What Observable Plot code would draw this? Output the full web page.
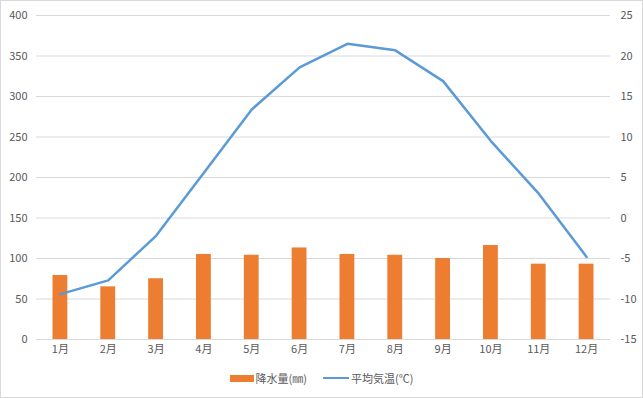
<!DOCTYPE html>
<html>
<head>
<meta charset="utf-8">
<script src="https://cdn.jsdelivr.net/npm/d3@7"></script>
<script src="https://cdn.jsdelivr.net/npm/@observablehq/plot@0.6"></script>
<style>
  html, body { margin: 0; padding: 0; background: #fff; }
  #wrap { position: relative; width: 643px; height: 398px; overflow: hidden; font-family: "Noto Sans CJK JP", "Noto Sans", sans-serif; }
  #border { position: absolute; left: 0; top: 0; width: 643px; height: 398px; box-sizing: border-box; border: 1px solid #d9d9d9; pointer-events: none; }
  #chart svg { display: block; }
  #legend { position: absolute; left: 0; top: 370px; width: 643px; display: flex; justify-content: center; align-items: center; font-size: 11px; color: #595959; gap: 0; }
  .item { display: flex; align-items: center; margin: 0 8px; }
  .sw-bar { width: 24px; height: 7px; background: #ed7d31; margin-right: 2px; }
  .sw-line { width: 26px; height: 0; border-top: 2.5px solid #5b9bd5; margin-right: 2px; }
</style>
</head>
<body>
<div id="wrap">
  <div id="chart"></div>
  <div id="legend"></div>
  <div id="border"></div>
</div>
<script>
const months = ["1月","2月","3月","4月","5月","6月","7月","8月","9月","10月","11月","12月"];
const precipitation = [79, 65, 75, 105, 104, 113, 105, 104, 100, 116, 93, 93];
const temperature = [-9.4, -7.7, -2.2, 5.6, 13.4, 18.6, 21.5, 20.7, 16.9, 9.5, 3.0, -4.8];
const leftTicks = [0, 50, 100, 150, 200, 250, 300, 350, 400];
const rightTicks = [-15, -10, -5, 0, 5, 10, 15, 20, 25];
const seriesNames = ["降水量(㎜)", "平均気温(℃)"];
const colors = ["#ed7d31", "#5b9bd5"];

// map temperature (-15..25) onto the precipitation scale (0..400)
const tToP = t => (t + 15) * 10;

const data = months.map((m, i) => ({month: m, p: precipitation[i], t: temperature[i]}));

const chart = Plot.plot({
  width: 643,
  height: 366,
  marginTop: 15,
  marginBottom: 27,
  marginLeft: 36,
  marginRight: 33,
  style: {fontFamily: '"Noto Sans CJK JP", "Noto Sans", sans-serif', fontSize: "11px", color: "#595959", background: "transparent"},
  x: {type: "band", domain: months, paddingInner: 0.69, paddingOuter: 0.345, round: false, label: null},
  y: {domain: [0, 400], label: null},
  marks: [
    Plot.gridY(leftTicks, {stroke: "#d9d9d9", strokeOpacity: 1, strokeWidth: 1}),
    Plot.barY(data, {x: "month", y: "p", fill: colors[0]}),
    Plot.line(data, {x: "month", y: d => tToP(d.t), stroke: colors[1], strokeWidth: 2.5, strokeLinejoin: "round", strokeLinecap: "round"}),
    Plot.axisY(leftTicks, {anchor: "left", tickSize: 0, tickPadding: 9, fill: "#595959", label: null}),
    Plot.axisY(rightTicks.map(tToP), {anchor: "right", tickSize: 0, tickPadding: 10, fill: "#595959", label: null, tickFormat: v => String(Math.round(v / 10 - 15))}),
    Plot.axisX({tickSize: 0, tickPadding: 6, fill: "#595959", label: null})
  ]
});
document.getElementById("chart").appendChild(chart);

const legend = document.getElementById("legend");
legend.innerHTML =
  `<div class="item"><div class="sw-bar"></div><span>${seriesNames[0]}</span></div>` +
  `<div class="item"><div class="sw-line"></div><span>${seriesNames[1]}</span></div>`;
</script>
</body>
</html>
